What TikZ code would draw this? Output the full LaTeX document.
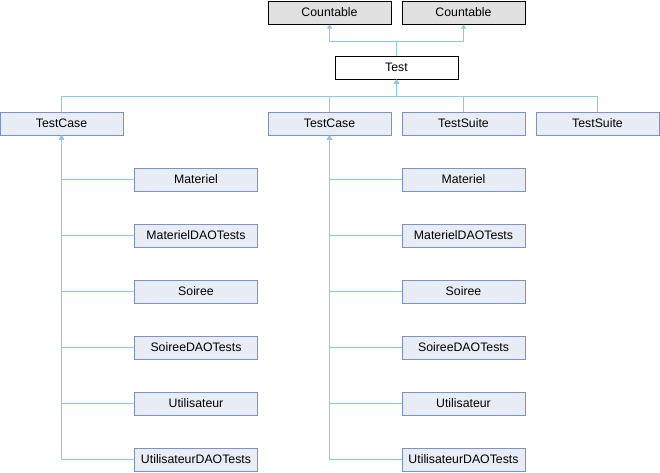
\documentclass[tikz,border=0pt]{standalone}
\usepackage{fontspec}
\setmainfont{Liberation Sans}
\usetikzlibrary{arrows.meta}
\definecolor{edgec}{HTML}{8CC8EA}
\definecolor{boxb}{HTML}{7B93C8}
\definecolor{boxf}{HTML}{E8ECF5}
\definecolor{grayf}{HTML}{E0E0E0}
\begin{document}
\begin{tikzpicture}[x=1pt,y=-1pt,
  cls/.style={draw=boxb,fill=boxf,line width=1pt,minimum width=123pt,minimum height=23pt,inner sep=0pt,
    font=\fontsize{12.3}{14}\selectfont},
  ext/.style={cls,draw=black,fill=grayf},
  cur/.style={cls,draw=black,fill=white},
  conn/.style={draw=edgec,line width=1pt,-{Triangle[width=5pt,length=4pt]},edgec}]
\useasboundingbox (0,0) rectangle (660,472);
\node[ext] (c1) at (329.5,12.5) {Countable};
\node[ext] (c2) at (463.5,12.5) {Countable};
\node[cur] (test) at (396.5,67.5) {Test};
\node[cls] (tc1) at (61.5,123.5) {TestCase};
\node[cls] (tc2) at (329.5,123.5) {TestCase};
\node[cls] (ts1) at (463.5,123.5) {TestSuite};
\node[cls] (ts2) at (597.5,123.5) {TestSuite};
\coordinate (busT) at (0,41);
\coordinate (busB) at (0,96);
% top edges
\draw[conn] (test.north) -- (test.north |- busT) -| (c1.south);
\draw[conn] (test.north) -- (test.north |- busT) -| (c2.south);
% second row edges
\foreach \n in {tc1,tc2,ts1,ts2}{
  \draw[conn] (\n.north) -- (\n.north |- busB) -| (test.south);
}
% children
\foreach \name/\lab/\y [count=\i] in {Materiel/Materiel/179.5,MaterielDAOTests/MaterielDAOTests/235.5,Soiree/Soiree/291.5,SoireeDAOTests/SoireeDAOTests/347.5,Utilisateur/Utilisateur/403.5,UtilisateurDAOTests/UtilisateurDAOTests/459.5}{
  \node[cls] (l\i) at (196,\y) {\lab};
  \node[cls] (r\i) at (463.5,\y) {\lab};
  \draw[conn] (l\i.west) -| (tc1.south);
  \draw[conn] (r\i.west) -| (tc2.south);
}
\end{tikzpicture}
\end{document}
